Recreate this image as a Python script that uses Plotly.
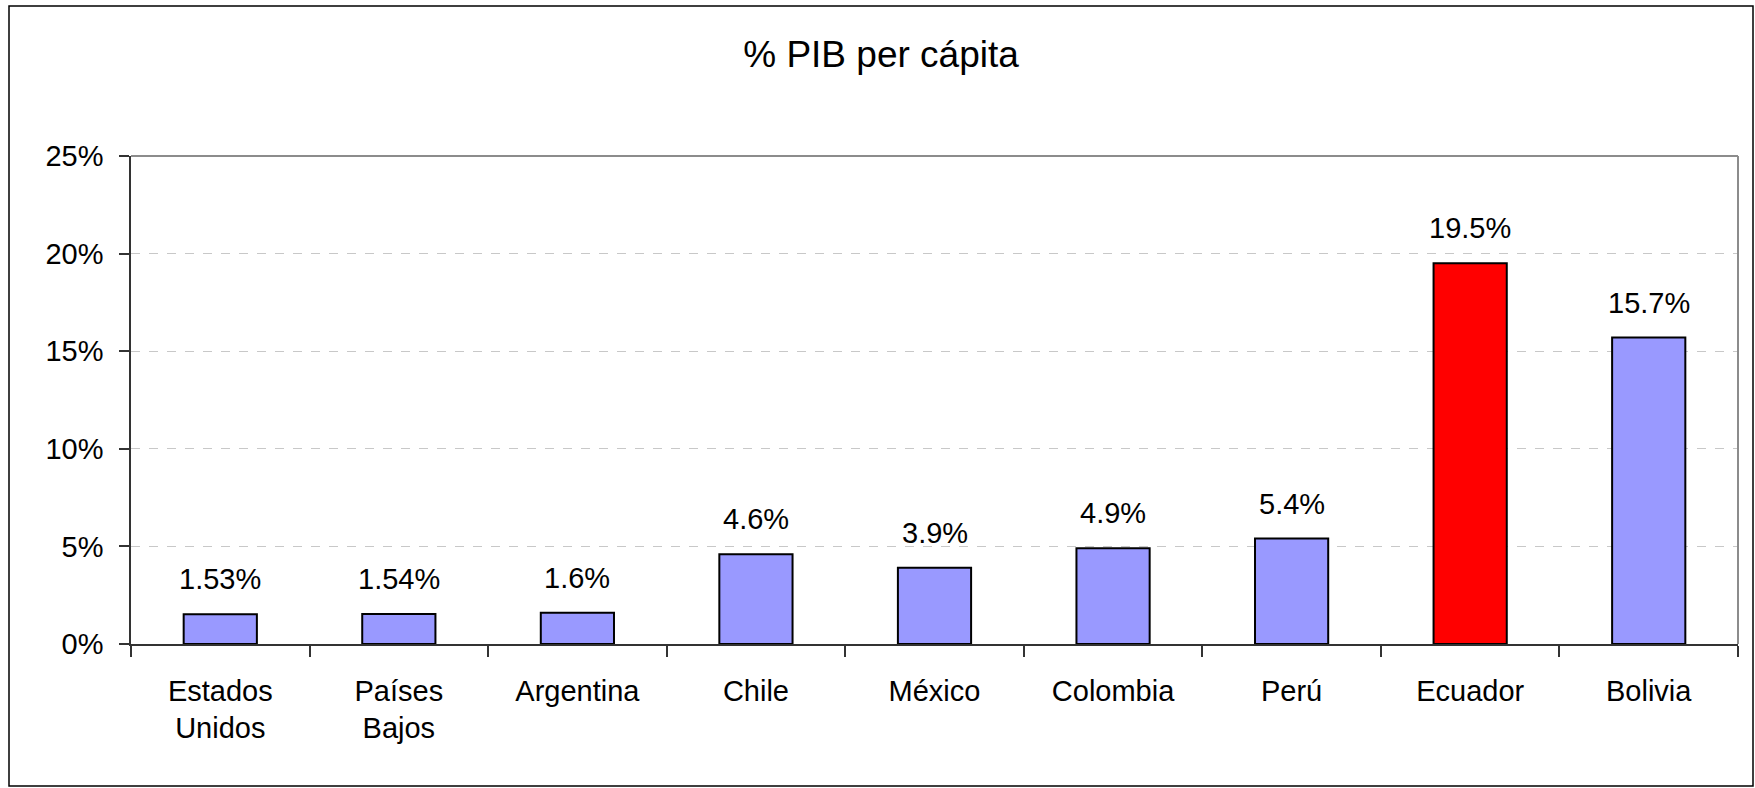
import plotly.graph_objects as go

categories = ["Estados<br>Unidos", "Países<br>Bajos", "Argentina", "Chile", "México",
              "Colombia", "Perú", "Ecuador", "Bolivia"]
values = [1.53, 1.54, 1.6, 4.6, 3.9, 4.9, 5.4, 19.5, 15.7]
value_labels = ["1.53%", "1.54%", "1.6%", "4.6%", "3.9%", "4.9%", "5.4%", "19.5%", "15.7%"]
bar_colors = ["#9999FF"] * 7 + ["#FF0000", "#9999FF"]
y_tick_vals = [0, 5, 10, 15, 20, 25]
y_tick_text = ["0%", "5%", "10%", "15%", "20%", "25%"]
title_text = "% PIB per cápita"

W, H = 1755, 788
L, R, T, B = 131, 17, 156, 144
FONT = "Liberation Sans, Arial, sans-serif"

fig = go.Figure()
fig.add_trace(go.Bar(
    x=categories, y=values,
    marker=dict(color=bar_colors, line=dict(color="#000000", width=2)),
    hoverinfo="skip",
))

annotations = [
    dict(x=c, y=v, xref="x", yref="y", text=t, showarrow=False,
         yanchor="bottom", xanchor="center", yshift=17,
         font=dict(family=FONT, size=29, color="#000000"))
    for c, v, t in zip(categories, values, value_labels)
]

pw = W - L - R
ph = H - T - B
fig.update_layout(
    width=W, height=H,
    margin=dict(l=L, r=R, t=T, b=B, pad=0),
    paper_bgcolor="#FFFFFF", plot_bgcolor="#FFFFFF",
    showlegend=False,
    bargap=0.59,
    annotations=annotations,
    title=dict(text=title_text, x=0.502, xanchor="center", y=1 - 54 / H, yanchor="middle",
               font=dict(family=FONT, size=37, color="#000000")),
    font=dict(family=FONT, size=29, color="#000000"),
    xaxis=dict(
        type="category", tickson="boundaries", ticks="outside", ticklen=11,
        tickcolor="#333333", tickwidth=1.5,
        showline=True, linecolor="#333333", linewidth=1.5,
        showgrid=False, zeroline=False,
        tickfont=dict(family=FONT, size=29, color="#000000"),
        ticklabelstandoff=20,
    ),
    yaxis=dict(
        range=[0, 25], tickmode="array", tickvals=y_tick_vals, ticktext=y_tick_text,
        ticks="outside", ticklen=10, tickcolor="#333333", tickwidth=1.5,
        showline=True, linecolor="#333333", linewidth=1.5,
        showgrid=True, gridcolor="#C8C8C8", griddash="dash", gridwidth=1,
        zeroline=False,
        tickfont=dict(family=FONT, size=29, color="#000000"),
        ticklabelstandoff=10,
    ),
    shapes=[
        # plot area top and right border
        dict(type="line", xref="paper", yref="paper", x0=0, x1=1, y0=1, y1=1,
             line=dict(color="#8C8C8C", width=2)),
        dict(type="line", xref="paper", yref="paper", x0=1, x1=1, y0=0, y1=1,
             line=dict(color="#8C8C8C", width=2)),
        # outer chart border
        dict(type="rect", xref="paper", yref="paper",
             x0=(9 - L) / pw, x1=(1753 - L) / pw,
             y0=-(786 - (H - B)) / ph, y1=1 + (T - 6) / ph,
             line=dict(color="#000000", width=1.5)),
    ],
)

fig.write_html(
    "out.html",
    config={"displayModeBar": False},
    post_script="document.body.style.margin='0';document.body.style.overflow='hidden';",
)
